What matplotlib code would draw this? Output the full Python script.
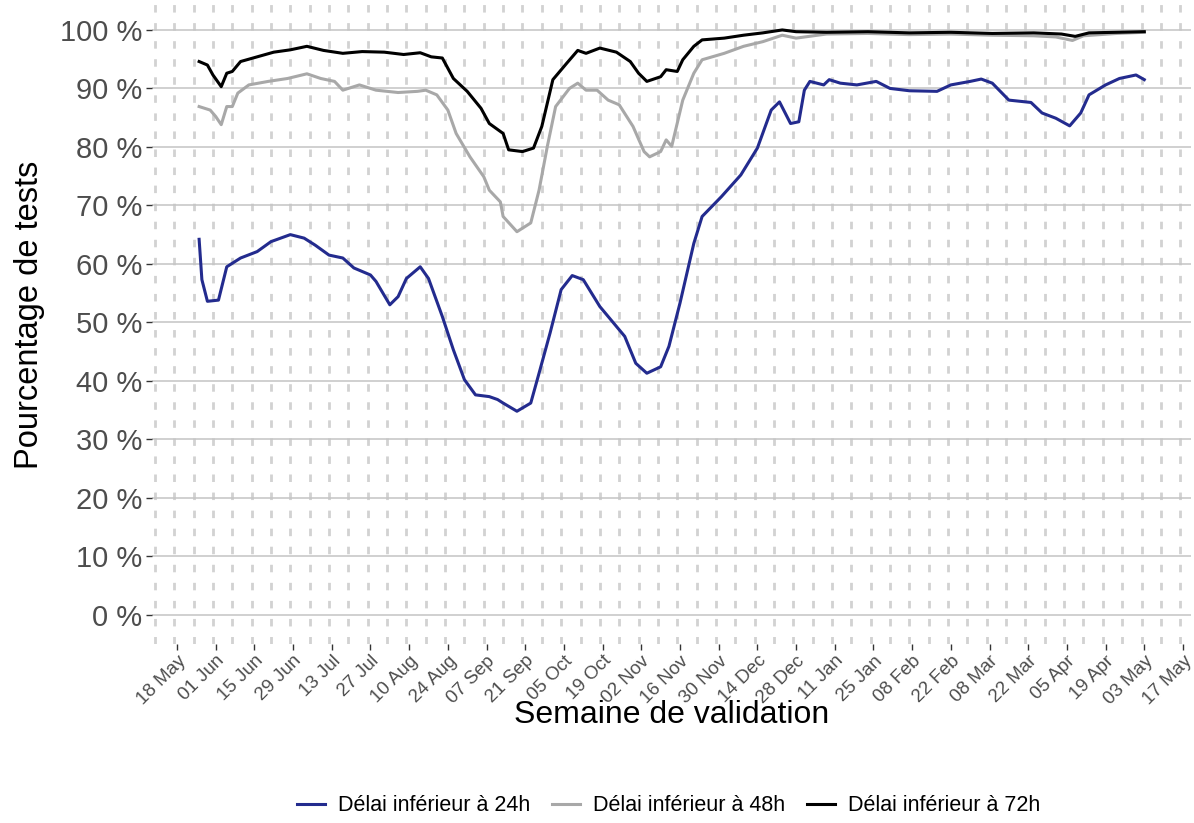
import matplotlib
matplotlib.use("Agg")
import matplotlib.pyplot as plt
import matplotlib.dates as mdates
import pandas as pd
from matplotlib import font_manager

# Police proche de Helvetica (ggplot)
plt.rcParams['font.family'] = ['Liberation Sans', 'DejaVu Sans']
noms = {f.name for f in font_manager.fontManager.ttflist}
police_legende = 'Liberation Sans Narrow' if 'Liberation Sans Narrow' in noms else 'Liberation Sans'

# ---- Données (pourcentage de tests) ----
dates_24h = ['2020-05-26', '2020-05-27', '2020-05-29', '2020-06-02', '2020-06-05', '2020-06-10',
             '2020-06-16', '2020-06-21', '2020-06-28', '2020-07-03', '2020-07-07', '2020-07-12',
             '2020-07-17', '2020-07-21', '2020-07-27', '2020-07-29', '2020-08-03', '2020-08-06',
             '2020-08-09', '2020-08-14', '2020-08-17', '2020-08-22', '2020-08-26', '2020-08-30',
             '2020-09-03', '2020-09-08', '2020-09-11', '2020-09-13', '2020-09-18', '2020-09-23',
             '2020-09-26', '2020-09-30', '2020-10-04', '2020-10-08', '2020-10-12', '2020-10-18',
             '2020-10-27', '2020-10-31', '2020-11-04', '2020-11-09', '2020-11-12', '2020-11-16',
             '2020-11-21', '2020-11-24', '2020-12-01', '2020-12-08', '2020-12-14', '2020-12-19',
             '2020-12-22', '2020-12-26', '2020-12-29', '2020-12-31', '2021-01-02', '2021-01-07',
             '2021-01-09', '2021-01-13', '2021-01-19', '2021-01-26', '2021-01-31', '2021-02-07',
             '2021-02-17', '2021-02-22', '2021-03-01', '2021-03-05', '2021-03-09', '2021-03-15',
             '2021-03-23', '2021-03-27', '2021-04-01', '2021-04-06', '2021-04-10', '2021-04-13',
             '2021-04-19', '2021-04-24', '2021-04-30', '2021-05-03']
pct_24h = [64.2, 57.3, 53.6, 53.8, 59.5, 61.0,
           62.1, 63.8, 65.0, 64.4, 63.2, 61.5,
           61.0, 59.3, 58.1, 57.0, 53.0, 54.4,
           57.5, 59.5, 57.5, 51.0, 45.3, 40.2,
           37.6, 37.3, 36.8, 36.2, 34.8, 36.2,
           41.3, 48.2, 55.6, 58.0, 57.3, 52.7,
           47.6, 43.0, 41.3, 42.4, 45.9, 53.3,
           63.5, 68.1, 71.5, 75.2, 79.8, 86.3,
           87.7, 84.0, 84.3, 89.7, 91.2, 90.6,
           91.5, 90.9, 90.6, 91.2, 90.0, 89.6,
           89.5, 90.6, 91.2, 91.6, 90.9, 88.0,
           87.6, 85.8, 84.9, 83.6, 85.8, 88.9,
           90.6, 91.7, 92.3, 91.5]

dates_48h = ['2020-05-26', '2020-05-30', '2020-06-01', '2020-06-03', '2020-06-05', '2020-06-07',
             '2020-06-09', '2020-06-13', '2020-06-20', '2020-06-27', '2020-07-04', '2020-07-09',
             '2020-07-14', '2020-07-17', '2020-07-21', '2020-07-23', '2020-07-29', '2020-08-06',
             '2020-08-13', '2020-08-16', '2020-08-20', '2020-08-24', '2020-08-27', '2020-09-01',
             '2020-09-06', '2020-09-08', '2020-09-12', '2020-09-13', '2020-09-18', '2020-09-23',
             '2020-09-26', '2020-09-29', '2020-10-02', '2020-10-07', '2020-10-10', '2020-10-13',
             '2020-10-17', '2020-10-21', '2020-10-25', '2020-10-30', '2020-11-03', '2020-11-05',
             '2020-11-09', '2020-11-11', '2020-11-13', '2020-11-17', '2020-11-21', '2020-11-24',
             '2020-12-02', '2020-12-09', '2020-12-16', '2020-12-23', '2020-12-28', '2021-01-08',
             '2021-01-23', '2021-02-07', '2021-02-22', '2021-03-09', '2021-03-24', '2021-04-01',
             '2021-04-07', '2021-04-11', '2021-04-23', '2021-05-03']
pct_48h = [86.9, 86.3, 85.2, 83.8, 86.9, 86.9,
           89.2, 90.6, 91.2, 91.7, 92.5, 91.7,
           91.2, 89.7, 90.3, 90.6, 89.7, 89.3,
           89.5, 89.7, 88.9, 86.3, 82.3, 78.3,
           74.9, 72.6, 70.6, 68.1, 65.5, 67.0,
           72.6, 80.1, 86.9, 90.0, 90.9, 89.7,
           89.7, 88.0, 87.2, 83.5, 79.2, 78.3,
           79.2, 81.2, 80.1, 88.0, 92.6, 94.9,
           96.0, 97.2, 98.0, 99.1, 98.6, 99.3,
           99.4, 99.2, 99.3, 99.1, 99.0, 98.8,
           98.2, 99.0, 99.4, 99.6]

dates_72h = ['2020-05-26', '2020-05-29', '2020-05-31', '2020-06-03', '2020-06-05', '2020-06-07',
             '2020-06-10', '2020-06-16', '2020-06-22', '2020-06-28', '2020-07-04', '2020-07-10',
             '2020-07-17', '2020-07-24', '2020-08-01', '2020-08-08', '2020-08-14', '2020-08-18',
             '2020-08-22', '2020-08-26', '2020-08-31', '2020-09-05', '2020-09-08', '2020-09-13',
             '2020-09-15', '2020-09-20', '2020-09-24', '2020-09-27', '2020-10-01', '2020-10-06',
             '2020-10-10', '2020-10-13', '2020-10-18', '2020-10-24', '2020-10-29', '2020-11-01',
             '2020-11-04', '2020-11-09', '2020-11-11', '2020-11-15', '2020-11-17', '2020-11-21',
             '2020-11-24', '2020-12-02', '2020-12-09', '2020-12-16', '2020-12-23', '2020-12-28',
             '2021-01-08', '2021-01-23', '2021-02-07', '2021-02-22', '2021-03-09', '2021-03-24',
             '2021-04-03', '2021-04-08', '2021-04-13', '2021-04-23', '2021-05-03']
pct_72h = [94.6, 94.0, 92.3, 90.3, 92.6, 92.9,
           94.6, 95.4, 96.2, 96.6, 97.2, 96.5,
           96.0, 96.3, 96.2, 95.8, 96.1, 95.4,
           95.2, 91.7, 89.5, 86.6, 84.0, 82.3,
           79.5, 79.2, 79.8, 83.5, 91.5, 94.3,
           96.5, 96.0, 96.9, 96.2, 94.6, 92.6,
           91.2, 92.0, 93.2, 92.9, 94.9, 97.2,
           98.3, 98.6, 99.1, 99.5, 100.0, 99.7,
           99.6, 99.7, 99.5, 99.6, 99.4, 99.5,
           99.3, 98.9, 99.5, 99.6, 99.7]

series = ['Délai inférieur à 24h', 'Délai inférieur à 48h', 'Délai inférieur à 72h']
couleurs = ['#232b8e', '#a8a8a8', '#000000']

graduations_y = [0, 10, 20, 30, 40, 50, 60, 70, 80, 90, 100]
debut_axe = '2020-05-18'   # première graduation de l'axe x
fin_axe = '2021-05-17'     # dernière graduation de l'axe x

# ---- Figure ----
fig = plt.figure(figsize=(11.94, 8.23), dpi=100)
ax = fig.add_axes([152 / 1194, 179 / 823, 1039 / 1194, 643.3 / 823])

# Grille verticale pointillée (chaque semaine)
for jour in pd.date_range('2020-05-10', '2021-05-16', freq='7D'):
    ax.axvline(jour, color='#d2d2d2', lw=2.0, ls=(0, (2.7, 3.8)), zorder=0)
# Grille horizontale
ax.set_yticks(graduations_y)
ax.set_yticklabels([f'{v} %' for v in graduations_y])
ax.grid(axis='y', color='#c4c4c4', lw=1.1, zorder=0.5)
ax.grid(axis='x', visible=False)

# Courbes
for d, v, nom, c in zip([dates_24h, dates_48h, dates_72h], [pct_24h, pct_48h, pct_72h],
                        series, couleurs):
    ax.plot(pd.to_datetime(d), v, color=c, lw=2.2, label=nom, zorder=3,
            solid_joinstyle='round')

# Axe x : une graduation toutes les deux semaines
graduations_x = pd.date_range(debut_axe, fin_axe, freq='14D')
ax.set_xticks(graduations_x)
ax.xaxis.set_major_formatter(mdates.DateFormatter('%d %b'))
base = mdates.date2num(pd.Timestamp(debut_axe))
ax.set_xlim(base - 9.05, base + 366.9)
ax.set_ylim(-5, 105)

for s in ax.spines.values():
    s.set_visible(False)
ax.tick_params(axis='x', length=4, width=1, color='#333333', pad=2,
               labelsize=13.5, labelcolor='#4d4d4d')
ax.tick_params(axis='y', length=4, width=1, color='#333333', pad=3,
               labelsize=21, labelcolor='#4d4d4d')
for lab in ax.get_xticklabels():
    lab.set_rotation(45)
    lab.set_ha('right')
    lab.set_rotation_mode('anchor')

ax.set_xlabel('Semaine de validation', fontsize=23, va='center')
ax.xaxis.set_label_coords(0.5, -(715 - 644) / 643.3)
ax.set_ylabel('Pourcentage de tests', fontsize=23.5, va='center')
ax.yaxis.set_label_coords(-(152 - 30) / 1039, 0.511)

fig.legend(loc='center', bbox_to_anchor=(0.56, 0.021), ncol=3, frameon=False,
           handlelength=1.3, handletextpad=0.6, columnspacing=1.0,
           prop={'family': police_legende, 'size': 15.5})

fig.savefig('out.png', dpi=100, facecolor='white')
